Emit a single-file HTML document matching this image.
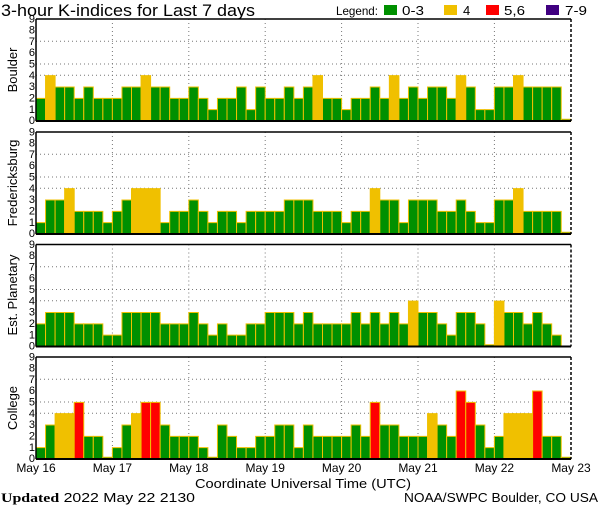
<!DOCTYPE html>
<html><head><meta charset="utf-8"><style>
html,body{margin:0;padding:0;background:#fff;}
svg{display:block;font-family:"Liberation Sans",sans-serif;}
.b rect{stroke:#f0c000;stroke-width:1;vector-effect:non-scaling-stroke;}
.g{fill:#009000}.y{fill:#f0c000}.r{fill:#ff0000}
.grid{stroke:#777;stroke-width:1;stroke-dasharray:1,3;fill:none}
.tl{font-size:11px;text-anchor:end}
</style></head><body>
<svg width="600" height="510" viewBox="0 0 600 510" xmlns="http://www.w3.org/2000/svg">
<rect width="600" height="510" fill="#fff"/>
<text x="1" y="16" font-size="17" textLength="254" lengthAdjust="spacingAndGlyphs">3-hour K-indices for Last 7 days</text>
<text x="336" y="15" font-size="12" textLength="42" lengthAdjust="spacingAndGlyphs">Legend:</text>
<rect x="384" y="5" width="13" height="10" fill="#009000"/><text x="402" y="15" font-size="13" textLength="22" lengthAdjust="spacingAndGlyphs">0-3</text>
<rect x="444" y="5" width="13" height="10" fill="#f0c000"/><text x="463" y="15" font-size="13">4</text>
<rect x="486" y="5" width="13" height="10" fill="#ff0000"/><text x="504" y="15" font-size="13" textLength="21" lengthAdjust="spacingAndGlyphs">5,6</text>
<rect x="546" y="5" width="13" height="10" fill="#400080"/><text x="565" y="15" font-size="13" textLength="22" lengthAdjust="spacingAndGlyphs">7-9</text>

<defs>
<g id="frame">
<path class="grid" d="M36,22.3H571M36,45H571M36,56.3H571M112.4,0V102M188.8,0V102M265.2,0V102M341.6,0V102M418,0V102M494.4,0V102"/>
</g>
<g id="ticks" class="tl">
<text x="35" y="105">0</text><text x="35" y="94">1</text><text x="35" y="82.5">2</text><text x="35" y="71">3</text><text x="35" y="60">4</text><text x="35" y="48.5">5</text><text x="35" y="37">6</text><text x="35" y="26">7</text><text x="35" y="14.5">8</text><text x="35" y="3.5">9</text>
</g>
<g id="axes">
<path d="M36,0H571M36,0V102" stroke="#000" stroke-width="1.5" fill="none"/>
<path d="M36,102H571" stroke="#000" stroke-width="2" fill="none"/>
<path d="M571,0V102" stroke="#000" stroke-width="1.5" stroke-dasharray="3,2" fill="none"/>
</g>
</defs>

<!-- Panel 1 -->
<g transform="translate(0,19)"><use href="#frame"/><use href="#ticks"/></g>
<g class="b" transform="translate(36,121) scale(9.55,-11.33)">
<rect class="g" x="0" width="1" height="2"/><rect class="y" x="1" width="1" height="4"/><rect class="g" x="2" width="1" height="3"/><rect class="g" x="3" width="1" height="3"/><rect class="g" x="4" width="1" height="2"/><rect class="g" x="5" width="1" height="3"/><rect class="g" x="6" width="1" height="2"/><rect class="g" x="7" width="1" height="2"/>
<rect class="g" x="8" width="1" height="2"/><rect class="g" x="9" width="1" height="3"/><rect class="g" x="10" width="1" height="3"/><rect class="y" x="11" width="1" height="4"/><rect class="g" x="12" width="1" height="3"/><rect class="g" x="13" width="1" height="3"/><rect class="g" x="14" width="1" height="2"/><rect class="g" x="15" width="1" height="2"/>
<rect class="g" x="16" width="1" height="3"/><rect class="g" x="17" width="1" height="2"/><rect class="g" x="18" width="1" height="1"/><rect class="g" x="19" width="1" height="2"/><rect class="g" x="20" width="1" height="2"/><rect class="g" x="21" width="1" height="3"/><rect class="g" x="22" width="1" height="1"/><rect class="g" x="23" width="1" height="3"/>
<rect class="g" x="24" width="1" height="2"/><rect class="g" x="25" width="1" height="2"/><rect class="g" x="26" width="1" height="3"/><rect class="g" x="27" width="1" height="2"/><rect class="g" x="28" width="1" height="3"/><rect class="y" x="29" width="1" height="4"/><rect class="g" x="30" width="1" height="2"/><rect class="g" x="31" width="1" height="2"/>
<rect class="g" x="32" width="1" height="1"/><rect class="g" x="33" width="1" height="2"/><rect class="g" x="34" width="1" height="2"/><rect class="g" x="35" width="1" height="3"/><rect class="g" x="36" width="1" height="2"/><rect class="y" x="37" width="1" height="4"/><rect class="g" x="38" width="1" height="2"/><rect class="g" x="39" width="1" height="3"/>
<rect class="g" x="40" width="1" height="2"/><rect class="g" x="41" width="1" height="3"/><rect class="g" x="42" width="1" height="3"/><rect class="g" x="43" width="1" height="2"/><rect class="y" x="44" width="1" height="4"/><rect class="g" x="45" width="1" height="3"/><rect class="g" x="46" width="1" height="1"/><rect class="g" x="47" width="1" height="1"/>
<rect class="g" x="48" width="1" height="3"/><rect class="g" x="49" width="1" height="3"/><rect class="y" x="50" width="1" height="4"/><rect class="g" x="51" width="1" height="3"/><rect class="g" x="52" width="1" height="3"/><rect class="g" x="53" width="1" height="3"/><rect class="g" x="54" width="1" height="3"/><rect class="g" x="55" width="1" height="0.15"/>
</g>
<g transform="translate(0,19)"><use href="#axes"/></g>
<text transform="translate(17,70) rotate(-90)" font-size="13" text-anchor="middle">Boulder</text>

<!-- Panel 2 -->
<g transform="translate(0,132)"><use href="#frame"/><use href="#ticks"/></g>
<g class="b" transform="translate(36,234) scale(9.55,-11.33)">
<rect class="g" x="0" width="1" height="1"/><rect class="g" x="1" width="1" height="3"/><rect class="g" x="2" width="1" height="3"/><rect class="y" x="3" width="1" height="4"/><rect class="g" x="4" width="1" height="2"/><rect class="g" x="5" width="1" height="2"/><rect class="g" x="6" width="1" height="2"/><rect class="g" x="7" width="1" height="1"/>
<rect class="g" x="8" width="1" height="2"/><rect class="g" x="9" width="1" height="3"/><rect class="y" x="10" width="1" height="4"/><rect class="y" x="11" width="1" height="4"/><rect class="y" x="12" width="1" height="4"/><rect class="g" x="13" width="1" height="1"/><rect class="g" x="14" width="1" height="2"/><rect class="g" x="15" width="1" height="2"/>
<rect class="g" x="16" width="1" height="3"/><rect class="g" x="17" width="1" height="2"/><rect class="g" x="18" width="1" height="1"/><rect class="g" x="19" width="1" height="2"/><rect class="g" x="20" width="1" height="2"/><rect class="g" x="21" width="1" height="1"/><rect class="g" x="22" width="1" height="2"/><rect class="g" x="23" width="1" height="2"/>
<rect class="g" x="24" width="1" height="2"/><rect class="g" x="25" width="1" height="2"/><rect class="g" x="26" width="1" height="3"/><rect class="g" x="27" width="1" height="3"/><rect class="g" x="28" width="1" height="3"/><rect class="g" x="29" width="1" height="2"/><rect class="g" x="30" width="1" height="2"/><rect class="g" x="31" width="1" height="2"/>
<rect class="g" x="32" width="1" height="1"/><rect class="g" x="33" width="1" height="2"/><rect class="g" x="34" width="1" height="2"/><rect class="y" x="35" width="1" height="4"/><rect class="g" x="36" width="1" height="3"/><rect class="g" x="37" width="1" height="3"/><rect class="g" x="38" width="1" height="1"/><rect class="g" x="39" width="1" height="3"/>
<rect class="g" x="40" width="1" height="3"/><rect class="g" x="41" width="1" height="3"/><rect class="g" x="42" width="1" height="2"/><rect class="g" x="43" width="1" height="2"/><rect class="g" x="44" width="1" height="3"/><rect class="g" x="45" width="1" height="2"/><rect class="g" x="46" width="1" height="1"/><rect class="g" x="47" width="1" height="1"/>
<rect class="g" x="48" width="1" height="3"/><rect class="g" x="49" width="1" height="3"/><rect class="y" x="50" width="1" height="4"/><rect class="g" x="51" width="1" height="2"/><rect class="g" x="52" width="1" height="2"/><rect class="g" x="53" width="1" height="2"/><rect class="g" x="54" width="1" height="2"/><rect class="g" x="55" width="1" height="0.15"/>
</g>
<g transform="translate(0,132)"><use href="#axes"/></g>
<text transform="translate(17,183) rotate(-90)" font-size="13" text-anchor="middle">Fredericksburg</text>

<!-- Panel 3 -->
<g transform="translate(0,244.5)"><use href="#frame"/><use href="#ticks"/></g>
<g class="b" transform="translate(36,346.5) scale(9.55,-11.33)">
<rect class="g" x="0" width="1" height="2"/><rect class="g" x="1" width="1" height="3"/><rect class="g" x="2" width="1" height="3"/><rect class="g" x="3" width="1" height="3"/><rect class="g" x="4" width="1" height="2"/><rect class="g" x="5" width="1" height="2"/><rect class="g" x="6" width="1" height="2"/><rect class="g" x="7" width="1" height="1"/>
<rect class="g" x="8" width="1" height="1"/><rect class="g" x="9" width="1" height="3"/><rect class="g" x="10" width="1" height="3"/><rect class="g" x="11" width="1" height="3"/><rect class="g" x="12" width="1" height="3"/><rect class="g" x="13" width="1" height="2"/><rect class="g" x="14" width="1" height="2"/><rect class="g" x="15" width="1" height="2"/>
<rect class="g" x="16" width="1" height="3"/><rect class="g" x="17" width="1" height="2"/><rect class="g" x="18" width="1" height="1"/><rect class="g" x="19" width="1" height="2"/><rect class="g" x="20" width="1" height="1"/><rect class="g" x="21" width="1" height="1"/><rect class="g" x="22" width="1" height="2"/><rect class="g" x="23" width="1" height="2"/>
<rect class="g" x="24" width="1" height="3"/><rect class="g" x="25" width="1" height="3"/><rect class="g" x="26" width="1" height="3"/><rect class="g" x="27" width="1" height="2"/><rect class="g" x="28" width="1" height="3"/><rect class="g" x="29" width="1" height="2"/><rect class="g" x="30" width="1" height="2"/><rect class="g" x="31" width="1" height="2"/>
<rect class="g" x="32" width="1" height="2"/><rect class="g" x="33" width="1" height="3"/><rect class="g" x="34" width="1" height="2"/><rect class="g" x="35" width="1" height="3"/><rect class="g" x="36" width="1" height="2"/><rect class="g" x="37" width="1" height="3"/><rect class="g" x="38" width="1" height="2"/><rect class="y" x="39" width="1" height="4"/>
<rect class="g" x="40" width="1" height="3"/><rect class="g" x="41" width="1" height="3"/><rect class="g" x="42" width="1" height="2"/><rect class="g" x="43" width="1" height="1"/><rect class="g" x="44" width="1" height="3"/><rect class="g" x="45" width="1" height="3"/><rect class="g" x="46" width="1" height="2"/><rect class="g" x="47" width="1" height="0.15"/>
<rect class="y" x="48" width="1" height="4"/><rect class="g" x="49" width="1" height="3"/><rect class="g" x="50" width="1" height="3"/><rect class="g" x="51" width="1" height="2"/><rect class="g" x="52" width="1" height="3"/><rect class="g" x="53" width="1" height="2"/><rect class="g" x="54" width="1" height="1"/>
</g>
<g transform="translate(0,244.5)"><use href="#axes"/></g>
<text transform="translate(17,295) rotate(-90)" font-size="13" text-anchor="middle">Est. Planetary</text>

<!-- Panel 4 -->
<g transform="translate(0,357)"><use href="#frame"/><use href="#ticks"/></g>
<g class="b" transform="translate(36,459) scale(9.55,-11.33)">
<rect class="g" x="0" width="1" height="1"/><rect class="g" x="1" width="1" height="3"/><rect class="y" x="2" width="1" height="4"/><rect class="y" x="3" width="1" height="4"/><rect class="r" x="4" width="1" height="5"/><rect class="g" x="5" width="1" height="2"/><rect class="g" x="6" width="1" height="2"/><rect class="g" x="7" width="1" height="0.15"/>
<rect class="g" x="8" width="1" height="1"/><rect class="g" x="9" width="1" height="3"/><rect class="y" x="10" width="1" height="4"/><rect class="r" x="11" width="1" height="5"/><rect class="r" x="12" width="1" height="5"/><rect class="g" x="13" width="1" height="3"/><rect class="g" x="14" width="1" height="2"/><rect class="g" x="15" width="1" height="2"/>
<rect class="g" x="16" width="1" height="2"/><rect class="g" x="17" width="1" height="1"/><rect class="g" x="18" width="1" height="0.15"/><rect class="g" x="19" width="1" height="3"/><rect class="g" x="20" width="1" height="2"/><rect class="g" x="21" width="1" height="1"/><rect class="g" x="22" width="1" height="1"/><rect class="g" x="23" width="1" height="2"/>
<rect class="g" x="24" width="1" height="2"/><rect class="g" x="25" width="1" height="3"/><rect class="g" x="26" width="1" height="3"/><rect class="g" x="27" width="1" height="1"/><rect class="g" x="28" width="1" height="3"/><rect class="g" x="29" width="1" height="2"/><rect class="g" x="30" width="1" height="2"/><rect class="g" x="31" width="1" height="2"/>
<rect class="g" x="32" width="1" height="2"/><rect class="g" x="33" width="1" height="3"/><rect class="g" x="34" width="1" height="2"/><rect class="r" x="35" width="1" height="5"/><rect class="g" x="36" width="1" height="3"/><rect class="g" x="37" width="1" height="3"/><rect class="g" x="38" width="1" height="2"/><rect class="g" x="39" width="1" height="2"/>
<rect class="g" x="40" width="1" height="2"/><rect class="y" x="41" width="1" height="4"/><rect class="g" x="42" width="1" height="3"/><rect class="g" x="43" width="1" height="2"/><rect class="r" x="44" width="1" height="6"/><rect class="r" x="45" width="1" height="5"/><rect class="g" x="46" width="1" height="3"/><rect class="g" x="47" width="1" height="1"/>
<rect class="g" x="48" width="1" height="2"/><rect class="y" x="49" width="1" height="4"/><rect class="y" x="50" width="1" height="4"/><rect class="y" x="51" width="1" height="4"/><rect class="r" x="52" width="1" height="6"/><rect class="g" x="53" width="1" height="2"/><rect class="g" x="54" width="1" height="2"/><rect class="g" x="55" width="1" height="0.15"/>
</g>
<g transform="translate(0,357)"><use href="#axes"/></g>
<text transform="translate(17,408) rotate(-90)" font-size="13" text-anchor="middle">College</text>

<g font-size="12" text-anchor="middle">
<text x="36" y="472">May 16</text><text x="112.4" y="472">May 17</text><text x="188.8" y="472">May 18</text><text x="265.2" y="472">May 19</text><text x="341.6" y="472">May 20</text><text x="418" y="472">May 21</text><text x="494.4" y="472">May 22</text><text x="571" y="472">May 23</text>
</g>
<text x="303" y="488" font-size="13" text-anchor="middle" textLength="216" lengthAdjust="spacingAndGlyphs">Coordinate Universal Time (UTC)</text>
<text x="1" y="502" font-size="13" textLength="194" lengthAdjust="spacingAndGlyphs"><tspan font-family="Liberation Serif" font-weight="bold">Updated</tspan> 2022 May 22 2130</text>
<text x="598" y="502" font-size="13" text-anchor="end" textLength="194" lengthAdjust="spacingAndGlyphs">NOAA/SWPC Boulder, CO USA</text>
</svg>
</body></html>
